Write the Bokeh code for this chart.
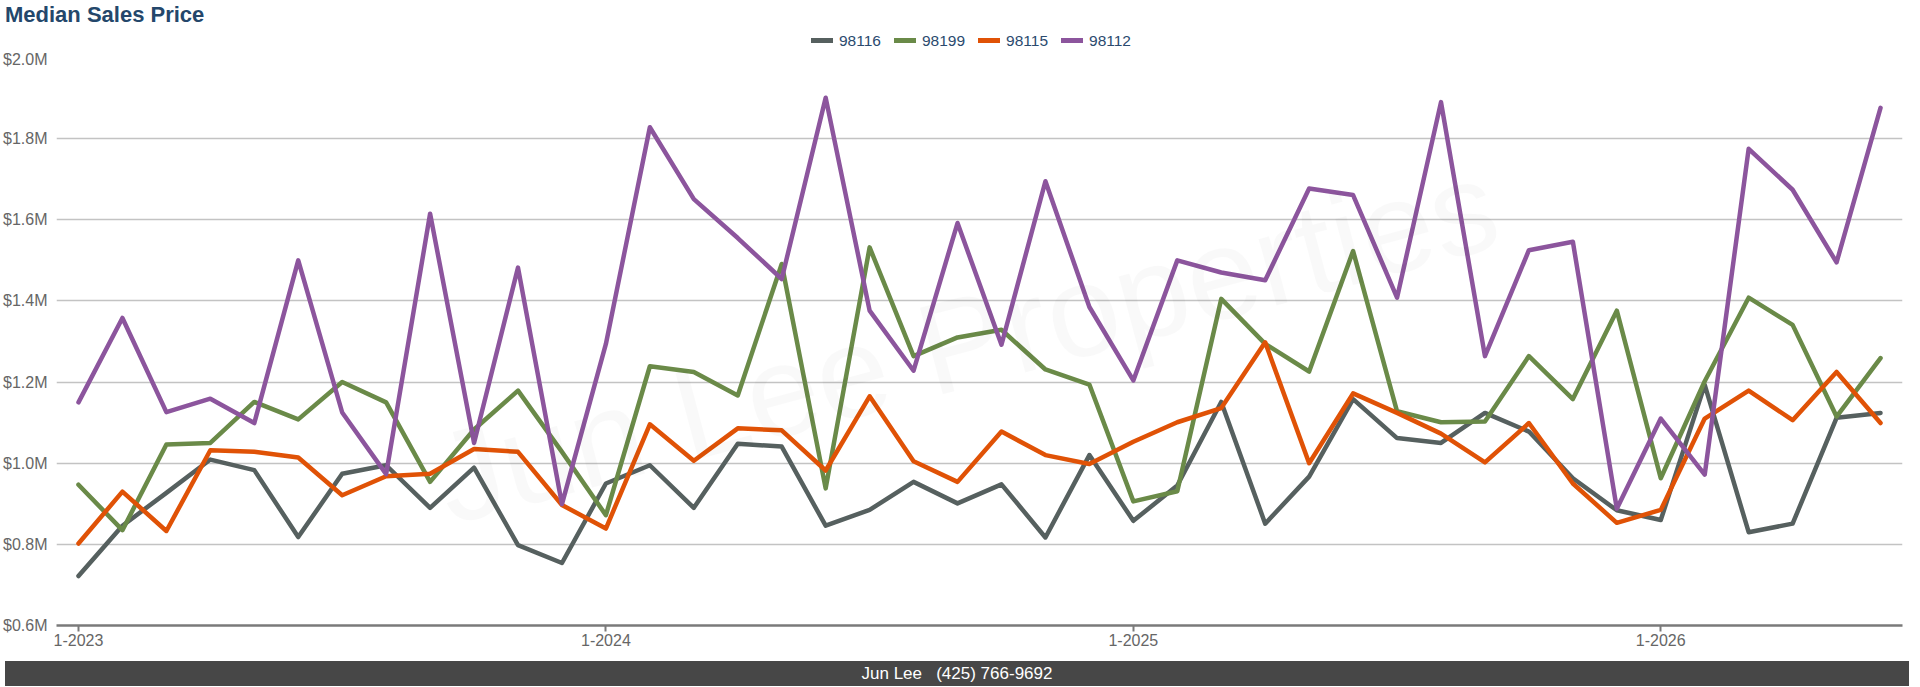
from bokeh.plotting import figure
from bokeh.models import (FixedTicker, Div, Range1d, ColumnDataSource)
from bokeh.layouts import column
from bokeh.embed import file_html
from bokeh.resources import INLINE
from bokeh.core.properties import value

FONT = "Liberation Sans"
CSS_FONT = "'Liberation Sans', Arial, sans-serif"

# ---------------- data ----------------
years = [2023, 2024, 2025, 2026]
months = [f"{m}-{y}" for y in years for m in range(1, 13)][:42]   # 1-2023 .. 6-2026

zip_codes = ["98116", "98199", "98115", "98112"]
colors = ["#56605f", "#6a8a48", "#e05206", "#8c559d"]

price_98116 = [722000, 846000, 927000, 1009000, 983000, 818000, 974000, 995000, 890000, 989000,
               798000, 754000, 950000, 995000, 890000, 1048000, 1041000, 846000, 885000, 954000,
               901000, 948000, 817000, 1020000, 858000, 945000, 1151000, 851000, 967000, 1158000,
               1062000, 1050000, 1124000, 1078000, 963000, 884000, 860000, 1193000, 830000, 851000,
               1112000, 1124000]
price_98199 = [947000, 835000, 1046000, 1050000, 1151000, 1108000, 1200000, 1150000, 954000, 1083000,
               1179000, 1028000, 872000, 1239000, 1225000, 1167000, 1491000, 938000, 1532000, 1264000,
               1310000, 1329000, 1231000, 1194000, 906000, 931000, 1405000, 1294000, 1226000, 1523000,
               1128000, 1101000, 1103000, 1264000, 1158000, 1376000, 963000, 1202000, 1408000, 1341000,
               1115000, 1259000]
price_98115 = [802000, 930000, 833000, 1032000, 1028000, 1014000, 921000, 968000, 974000, 1035000,
               1028000, 897000, 839000, 1096000, 1006000, 1086000, 1081000, 982000, 1165000, 1005000,
               954000, 1078000, 1020000, 998000, 1053000, 1101000, 1136000, 1298000, 1000000, 1172000,
               1124000, 1073000, 1002000, 1099000, 950000, 853000, 885000, 1110000, 1179000, 1106000,
               1225000, 1099000]
price_98112 = [1150000, 1358000, 1126000, 1159000, 1099000, 1500000, 1125000, 973000, 1615000, 1050000,
               1482000, 899000, 1294000, 1828000, 1651000, 1555000, 1454000, 1901000, 1376000, 1228000,
               1592000, 1292000, 1695000, 1385000, 1204000, 1500000, 1470000, 1451000, 1677000, 1661000,
               1408000, 1890000, 1264000, 1525000, 1546000, 888000, 1110000, 972000, 1775000, 1674000,
               1495000, 1876000]
series = [price_98116, price_98199, price_98115, price_98112]

y_ticks = [600000, 800000, 1000000, 1200000, 1400000, 1600000, 1800000, 2000000]
y_tick_labels = ["$0.6M", "$0.8M", "$1.0M", "$1.2M", "$1.4M", "$1.6M", "$1.8M", "$2.0M"]

title_text = "Median Sales Price"
footer_text = "Jun Lee&nbsp;&nbsp;&nbsp;(425) 766-9692"
watermark_text = "Jun Lee Properties"

# ---------------- header: title + legend ----------------
legend_html = "".join(
    f'<span style="display:inline-block;width:22px;height:5px;background:{c};'
    f'vertical-align:middle;margin-right:6px;"></span>'
    f'<span style="vertical-align:middle;margin-right:13px;">{z}</span>'
    for z, c in zip(zip_codes, colors))

header_html = (
    f'<div style="position:relative;width:1904px;height:40px;font-family:{CSS_FONT};">'
    f'<div style="position:absolute;left:0;top:-1px;font-size:22px;font-weight:bold;'
    f'color:#24476b;line-height:22px;white-space:nowrap;">{title_text}</div>'
    f'<div style="position:absolute;left:806px;top:28px;font-size:15.5px;color:#2a4a6e;'
    f'line-height:14px;white-space:nowrap;">{legend_html}</div>'
    f'</div>')
header = Div(text=header_html, width=1904, height=40, styles={"overflow": "visible"})

# ---------------- figure ----------------
x_idx = list(range(len(months)))
x_ticks = [i for i, m in enumerate(months) if m.startswith("1-")]

p = figure(width=1904, height=606, output_backend="svg", toolbar_location=None,
           x_range=Range1d(-0.5, len(months) - 0.5), y_range=Range1d(y_ticks[0], y_ticks[-1]),
           min_border_left=52, min_border_right=2, min_border_bottom=31, min_border_top=7,
           background_fill_color="white", border_fill_color="white")
p.outline_line_color = None

p.xgrid.grid_line_color = None
p.ygrid.grid_line_color = "#c3c3c3"
p.ygrid.grid_line_width = 1.5
p.ygrid.ticker = FixedTicker(ticks=y_ticks)

p.yaxis.ticker = FixedTicker(ticks=y_ticks)
p.yaxis.major_label_overrides = {t: l for t, l in zip(y_ticks, y_tick_labels)}
p.yaxis.axis_line_color = None
p.yaxis.major_tick_line_color = None
p.yaxis.minor_tick_line_color = None
p.yaxis.major_label_text_font = FONT
p.yaxis.major_label_text_font_size = "16px"
p.yaxis.major_label_text_color = "#666666"
p.yaxis.major_label_standoff = 3

p.xaxis.ticker = FixedTicker(ticks=x_ticks)
p.xaxis.major_label_overrides = {i: months[i] for i in x_ticks}
p.xaxis.axis_line_color = "#7a7a7a"
p.xaxis.axis_line_width = 2.5
p.xaxis.major_tick_line_color = "#7a7a7a"
p.xaxis.major_tick_line_width = 2
p.xaxis.major_tick_in = 0
p.xaxis.major_tick_out = 6
p.xaxis.minor_tick_line_color = None
p.xaxis.major_label_text_font = FONT
p.xaxis.major_label_text_font_size = "16px"
p.xaxis.major_label_text_color = "#666666"
p.xaxis.major_label_standoff = 2

for name, col, vals in zip(zip_codes, colors, series):
    src = ColumnDataSource(dict(x=x_idx, y=vals))
    p.line("x", "y", source=src, line_color=col, line_width=4.5, line_join="round", line_cap="round")

# watermark
p.text(x=[20.2], y=[1300000], text=[watermark_text], angle=0.26, text_font=value(FONT),
       text_font_size="130px", text_align="center", text_baseline="middle",
       text_color="#000000", text_alpha=0.025)

footer = Div(text=footer_text, width=1904, height=25,
             styles={"background-color": "#474747", "color": "white", "text-align": "center",
                     "font-family": CSS_FONT, "font-size": "17px",
                     "line-height": "25px", "width": "1904px"})

layout = column(header, p, footer, spacing=0)
open("out.html", "w").write(file_html(layout, INLINE))
